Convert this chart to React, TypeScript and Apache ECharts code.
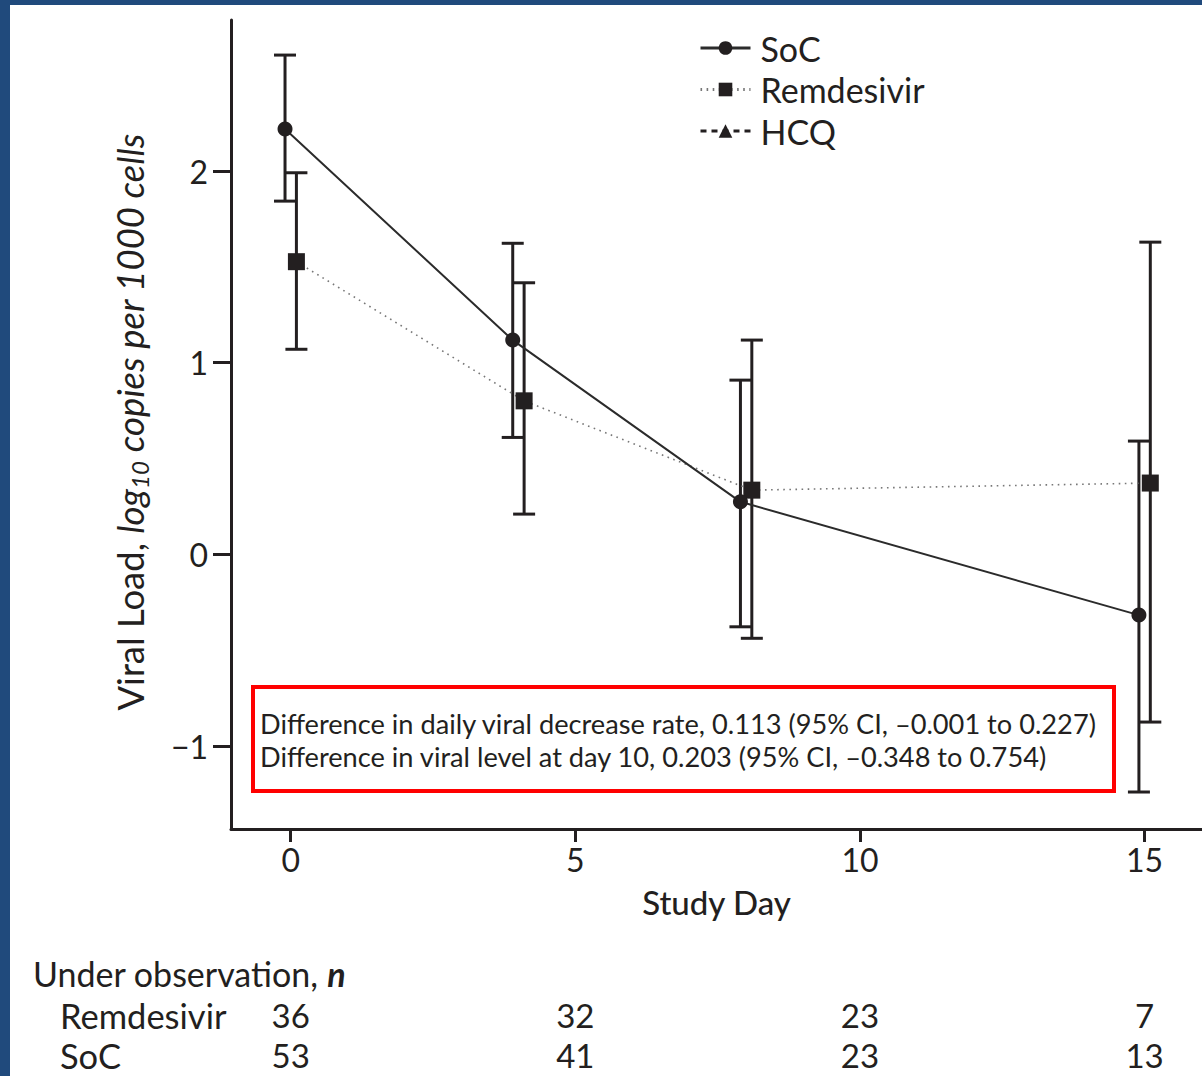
import React, { useEffect, useRef } from 'react';
import * as echarts from 'echarts';

// ---------- data ----------
const DAYS = [0, 4, 8, 15];
const SOC_MEAN = [2.219, 1.118, 0.274, -0.317];
const SOC_LOW = [1.843, 0.61, -0.378, -1.24];
const SOC_HIGH = [2.605, 1.623, 0.909, 0.591];
const REM_MEAN = [1.527, 0.801, 0.335, 0.372];
const REM_LOW = [1.07, 0.21, -0.438, -0.875];
const REM_HIGH = [1.991, 1.417, 1.118, 1.629];
const X_TICKS = [0, 5, 10, 15];
const Y_TICKS = [-1, 0, 1, 2];
const N_COLUMNS = [0, 5, 10, 15];
const N_REM = [36, 32, 23, 7];
const N_SOC = [53, 41, 23, 13];
const STATS_LINES = [
  'Difference in daily viral decrease rate, 0.113 (95% CI, \u20130.001 to 0.227)',
  'Difference in viral level at day 10, 0.203 (95% CI, \u20130.348 to 0.754)',
];

// ---------- style ----------
const FONT = 'Lato';
const INK = '#231f20';
const BLUE = '#204a7c';
const GROUP_SHIFT = 0.1; // horizontal dodge of the two groups

const errorSeries = (name: string, xs: number[], lows: number[], highs: number[]) => ({
  type: 'custom',
  name,
  silent: true,
  z: 1,
  data: xs.map((x, i) => [x, lows[i], highs[i]]),
  encode: { x: 0, y: [1, 2] },
  renderItem: (_params: any, api: any) => {
    const x = api.value(0);
    const pLo = api.coord([x, api.value(1)]);
    const pHi = api.coord([x, api.value(2)]);
    const hw = 11;
    const style = { stroke: INK, lineWidth: 3, fill: 'none' };
    return {
      type: 'group',
      children: [
        { type: 'line', shape: { x1: pLo[0], y1: pLo[1], x2: pHi[0], y2: pHi[1] }, style },
        { type: 'line', shape: { x1: pHi[0] - hw, y1: pHi[1], x2: pHi[0] + hw, y2: pHi[1] }, style },
        { type: 'line', shape: { x1: pLo[0] - hw, y1: pLo[1], x2: pLo[0] + hw, y2: pLo[1] }, style },
      ],
    };
  },
});

export default function App() {
  const ref = useRef<HTMLDivElement>(null);

  useEffect(() => {
    const chart = echarts.init(ref.current!, null, { renderer: 'svg' });
    const socX = DAYS.map((d) => d - GROUP_SHIFT);
    const remX = DAYS.map((d) => d + GROUP_SHIFT);

    const option: any = {
      animation: false,
      backgroundColor: '#ffffff',
      grid: { left: 231, top: 20, right: 0, bottom: 247, containLabel: false, outerBoundsMode: 'none' },
      legend: {
        data: ['SoC', 'Remdesivir', 'HCQ'],
        orient: 'vertical',
        left: 694,
        top: 26,
        itemWidth: 50,
        itemHeight: 17,
        itemGap: 7.5,
        selectedMode: false,
        textStyle: { fontSize: 34, fontFamily: FONT, color: INK, lineHeight: 15, padding: [0, 0, 0, 5] },
        lineStyle: { width: 3 },
      },
      xAxis: {
        type: 'value',
        min: -1.049,
        max: 16.008,
        name: 'Study Day',
        nameLocation: 'middle',
        nameGap: 56,
        nameTextStyle: { fontSize: 33, fontFamily: FONT, color: INK, fontWeight: 500 },
        axisLine: { show: true, onZero: false, lineStyle: { color: INK, width: 3 } },
        axisTick: { show: true, length: 13, customValues: X_TICKS, lineStyle: { color: INK, width: 3 } },
        axisLabel: { fontSize: 32, fontFamily: FONT, color: INK, margin: 14, customValues: X_TICKS },
        splitLine: { show: false },
      },
      yAxis: {
        type: 'value',
        min: -1.433,
        max: 2.788,
        axisLine: { show: true, onZero: false, lineStyle: { color: INK, width: 3 } },
        axisTick: { show: true, length: 18, customValues: Y_TICKS, lineStyle: { color: INK, width: 3 } },
        axisLabel: {
          fontSize: 32,
          fontFamily: FONT,
          color: INK,
          margin: 23,
          customValues: Y_TICKS,
          formatter: (v: number) => (v < 0 ? '\u2212' + Math.abs(v) : String(v)),
        },
        splitLine: { show: false },
      },
      series: [
        errorSeries('SoC CI', socX, SOC_LOW, SOC_HIGH),
        errorSeries('Remdesivir CI', remX, REM_LOW, REM_HIGH),
        {
          type: 'line',
          name: 'SoC',
          z: 3,
          data: socX.map((x, i) => [x, SOC_MEAN[i]]),
          symbol: 'circle',
          symbolSize: 15,
          itemStyle: { color: INK },
          lineStyle: { color: '#2b2b2b', width: 2, type: 'solid' },
        },
        {
          type: 'line',
          name: 'Remdesivir',
          z: 2,
          data: remX.map((x, i) => [x, REM_MEAN[i]]),
          symbol: 'rect',
          symbolSize: 17,
          itemStyle: { color: INK },
          lineStyle: { color: '#777777', width: 1.6, type: [1.6, 4.5] },
        },
        {
          type: 'line',
          name: 'HCQ',
          data: [],
          symbol: 'triangle',
          symbolSize: 14,
          itemStyle: { color: INK },
          lineStyle: { color: INK, width: 2, type: [6, 5] },
        },
      ],
    };
    chart.setOption(option);

    const colPx = N_COLUMNS.map((d) => chart.convertToPixel({ xAxisIndex: 0 }, d) as number);

    const txt = (text: string, x: number, y: number, size: number, align: string, extra: any = {}) => ({
      type: 'text',
      x,
      y,
      silent: true,
      style: {
        text,
        fontSize: size,
        fontFamily: FONT,
        fill: INK,
        align,
        textAlign: align,
        verticalAlign: 'middle',
        textVerticalAlign: 'middle',
        ...extra,
      },
    });

    const graphic: any[] = [
      { type: 'rect', shape: { x: 0, y: 0, width: 10, height: 1076 }, style: { fill: BLUE }, z: 100, silent: true },
      { type: 'rect', shape: { x: 0, y: 0, width: 1202, height: 5 }, style: { fill: BLUE }, z: 100, silent: true },
      {
        type: 'rect',
        shape: { x: 253, y: 687, width: 861, height: 104 },
        style: { fill: 'none', stroke: '#ff0000', lineWidth: 4 },
        z: 50,
        silent: true,
      },
      txt(STATS_LINES[0], 260, 723, 27.2, 'left'),
      txt(STATS_LINES[1], 260, 756, 27.2, 'left'),
      {
        type: 'text',
        x: 130,
        y: 422,
        rotation: Math.PI / 2,
        silent: true,
        style: {
          text: '{a|Viral Load, }{b|log}{s|10}{b| copies per 1000 cells}',
          align: 'center',
          textAlign: 'center',
          verticalAlign: 'middle',
          textVerticalAlign: 'middle',
          rich: {
            a: { fontSize: 36.5, fontFamily: FONT, fill: INK, lineHeight: 42 },
            b: { fontSize: 36.5, fontFamily: FONT, fill: INK, fontStyle: 'italic', lineHeight: 42 },
            s: { fontSize: 24, fontFamily: FONT, fill: INK, fontStyle: 'italic', lineHeight: 23, verticalAlign: 'bottom' },
          },
        },
      },
      {
        type: 'text',
        x: 33,
        y: 973,
        silent: true,
        style: {
          text: '{a|Under observation, }{b|n}',
          align: 'left',
          textAlign: 'left',
          verticalAlign: 'middle',
          textVerticalAlign: 'middle',
          rich: {
            a: { fontSize: 34, fontFamily: FONT, fill: INK },
            b: { fontSize: 34, fontFamily: FONT, fill: INK, fontStyle: 'italic', fontWeight: 'bold' },
          },
        },
      },
      txt('Remdesivir', 60, 1015, 34.5, 'left'),
      txt('SoC', 60, 1055, 34.5, 'left'),
      ...N_REM.map((n, i) => txt(String(n), colPx[i], 1015, 33, 'center')),
      ...N_SOC.map((n, i) => txt(String(n), colPx[i], 1055, 33, 'center')),
    ];
    chart.setOption({ graphic });

    return () => chart.dispose();
  }, []);

  return (
    <div
      ref={ref}
      style={{ position: 'absolute', left: 0, top: 0, width: 1202, height: 1076, background: '#ffffff' }}
    />
  );
}
